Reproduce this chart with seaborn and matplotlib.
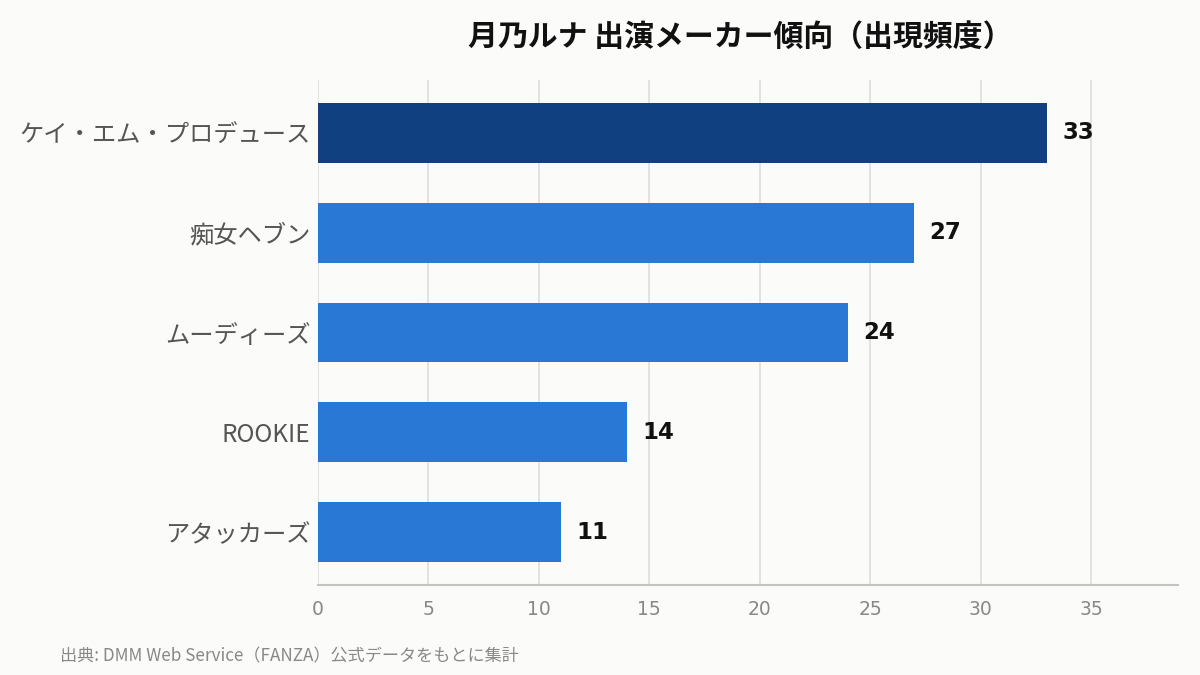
import matplotlib
matplotlib.use("Agg")
import matplotlib.pyplot as plt
import seaborn as sns
import pandas as pd

makers = ["ケイ・エム・プロデュース", "痴女ヘブン", "ムーディーズ", "ROOKIE", "アタッカーズ"]
counts = [33, 27, 24, 14, 11]
bar_colors = ["#114080", "#2a78d6", "#2a78d6", "#2a78d6", "#2a78d6"]
x_ticks = [0, 5, 10, 15, 20, 25, 30, 35]
title = "月乃ルナ 出演メーカー傾向（出現頻度）"
source = "出典: DMM Web Service（FANZA）公式データをもとに集計"

sns.set_theme(style="white")
plt.rcParams['font.family'] = ['Noto Sans CJK JP', 'DejaVu Sans']

bg = "#fbfbf9"
df = pd.DataFrame({"maker": makers, "count": counts})

fig = plt.figure(figsize=(12, 6.75), dpi=100, facecolor=bg)
ax = fig.add_axes([0.265, 0.1333, 0.7167, 0.7482])
ax.set_facecolor(bg)

sns.barplot(data=df, y="maker", x="count", hue="maker", palette=bar_colors,
            orient="h", width=0.6, legend=False, ax=ax, zorder=3, saturation=1,
            linewidth=0)

ax.set_xlim(0, 38.94)
ax.set_ylim(4.53, -0.53)
ax.set_xticks(x_ticks)
ax.set_xticklabels([str(t) for t in x_ticks], color="#888888", fontsize=13.5,
                   family=["DejaVu Sans"])
ax.tick_params(axis="x", length=6, width=1.2, color="#aaaaaa", pad=5, direction="out")
ax.tick_params(axis="y", length=0, pad=5.5, labelsize=17.5, labelcolor="#555555")
ax.xaxis.grid(True, color="#dddddd", linewidth=1.2, zorder=0)
ax.yaxis.grid(False)
ax.set_xlabel("")
ax.set_ylabel("")
for s in ["top", "right", "left"]:
    ax.spines[s].set_visible(False)
ax.spines["bottom"].set_color("#c4c4bc")
ax.spines["bottom"].set_linewidth(1.5)

for i, v in enumerate(counts):
    ax.annotate(str(v), xy=(v, i), xytext=(11, 0), textcoords="offset points",
                va="center", ha="left", fontsize=16.5, fontweight="bold",
                color="#111111", family=["DejaVu Sans"])

fig.text(0.617, 0.945, title, ha="center", va="center", fontsize=21.5,
         fontweight="bold", color="#111111")
fig.text(0.05, 0.028, source, ha="left", va="center", fontsize=12.3,
         color="#888888")

fig.savefig("out.png", dpi=100, facecolor=bg)
